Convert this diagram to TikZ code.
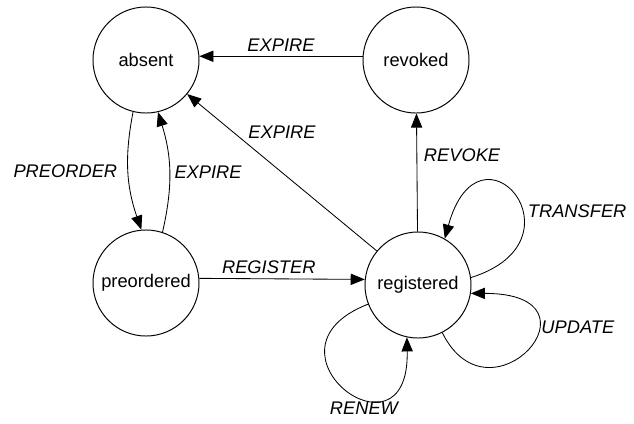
\documentclass[tikz,border=0pt]{standalone}
\usepackage{fontspec}
\setmainfont{Liberation Sans}
\usepackage{tikz}
\usetikzlibrary{positioning}
\usetikzlibrary{calc}
\usetikzlibrary{arrows, arrows.meta}

\tikzset{
  state/.style={circle, draw, line width=0.7pt, minimum size=2.65cm, inner sep=0pt, font=\fontsize{13}{15}\selectfont},
  trans/.style={line width=0.6pt, -{Triangle[length=10pt, width=8pt]}},
  lbl/.style={font=\fontsize{13}{15}\selectfont\itshape}
}

\begin{document}
\begin{tikzpicture}[x=0.025cm, y=0.025cm]
  \useasboundingbox (0,-423) rectangle (634,0);
  % states
  \node[state] (absent) at (146,-60) {absent};
  \node[state] (revoked) at (416,-60) {revoked};
  \node[state] (preordered) at (146,-283) {preordered};
  \node[state] (registered) at (418,-285) {registered};

  % transitions
  \draw[trans] (revoked.176) -- (absent.4) node[lbl, midway, above] {EXPIRE};
  \draw[trans] (registered) -- (absent) node[lbl, midway, above=0.72cm] {EXPIRE};
  \draw[trans] (registered) -- (revoked) node[lbl, pos=0.65, right=0.05cm] {REVOKE};
  \draw[trans] (preordered.5) -- (registered.174) node[lbl, pos=0.42, above] {REGISTER};
  \draw[trans] (absent.-104) to[bend right=15] node[lbl, midway, left=0.15cm] {PREORDER} (preordered.95);
  \draw[trans] (preordered.72) to[bend right=15] node[lbl, midway, right] {EXPIRE} (absent.-77);

  % self loops
  \draw[trans] (registered.8) .. controls +(118,37) and +(35,127) .. (registered.60) node[lbl, pos=0.4, right] {TRANSFER};
  \draw[trans] (registered.-63) .. controls +(48,-97) and +(140,0) .. (registered.-9) node[lbl, pos=0.65, right] {UPDATE};
  \draw[trans] (registered.-159) .. controls +(-118,-46) and +(3,-133) .. (registered.-102) node[lbl, pos=0.62, below] {RENEW};
\end{tikzpicture}
\end{document}
